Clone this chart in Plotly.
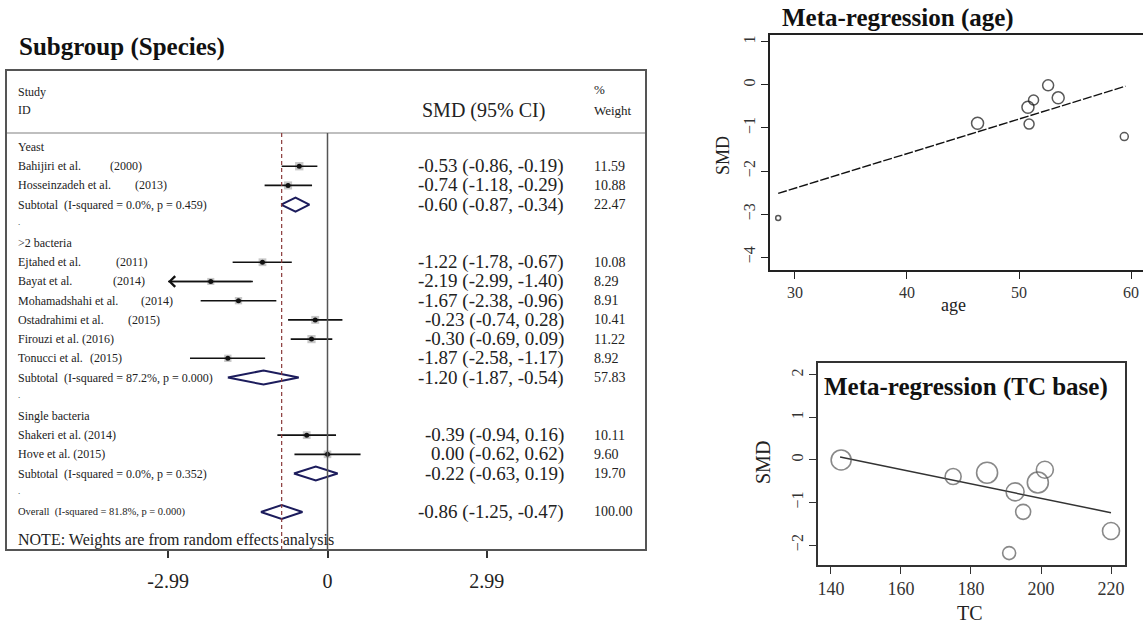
import plotly.graph_objects as go

W, H = 1143, 627
SERIF = "Liberation Serif, Times New Roman, serif"

# ---------------- forest plot data ----------------
groups = ["Yeast", ">2 bacteria", "Single bacteria"]
study_group = [0, 0, 1, 1, 1, 1, 1, 1, 2, 2]
study_name = ["Bahijiri et al.", "Hosseinzadeh et al.", "Ejtahed et al.", "Bayat et al.",
              "Mohamadshahi et al.", "Ostadrahimi et al.", "Firouzi et al.", "Tonucci et al.",
              "Shakeri et al.", "Hove et al."]
study_year = ["(2000)", "(2013)", "(2011)", "(2014)", "(2014)", "(2015)", "(2016)", "(2015)",
              "(2014)", "(2015)"]
study_smd = [-0.53, -0.74, -1.22, -2.19, -1.67, -0.23, -0.30, -1.87, -0.39, 0.00]
study_lo = [-0.86, -1.18, -1.78, -2.99, -2.38, -0.74, -0.69, -2.58, -0.94, -0.62]
study_hi = [-0.19, -0.29, -0.67, -1.40, -0.96, 0.28, 0.09, -1.17, 0.16, 0.62]
study_weight = [11.59, 10.88, 10.08, 8.29, 8.91, 10.41, 11.22, 8.92, 10.11, 9.60]

subtotal_i2 = ["0.0%", "87.2%", "0.0%"]
subtotal_p = ["0.459", "0.000", "0.352"]
subtotal_smd = [-0.60, -1.20, -0.22]
subtotal_lo = [-0.87, -1.87, -0.63]
subtotal_hi = [-0.34, -0.54, 0.19]
subtotal_weight = [22.47, 57.83, 19.70]

overall_i2, overall_p = "81.8%", "0.000"
overall_smd, overall_lo, overall_hi = -0.86, -1.25, -0.47
overall_weight = 100.00

axis_limit = 2.99
forest_ticks = [-2.99, 0, 2.99]
forest_ticktext = ["-2.99", "0", "2.99"]

# ---------------- meta-regression data ----------------
age_x = [28.5, 46.3, 50.8, 51.3, 50.9, 52.6, 53.5, 59.4]
age_smd = [-3.09, -0.89, -0.52, -0.35, -0.91, -0.01, -0.30, -1.20]
age_size = [5, 12, 12, 10, 10, 11, 12, 8]
age_fit_x = [28.5, 59.5]
age_fit_y = [-2.52, -0.03]

tc_x = [142.9, 174.9, 184.6, 192.6, 194.9, 190.9, 199.1, 201.1, 220.0]
tc_smd = [0.00, -0.39, -0.30, -0.75, -1.22, -2.19, -0.53, -0.23, -1.67]
tc_size = [20, 16, 21, 18, 15, 13, 21, 17, 17]
tc_fit_x = [142.6, 220.0]
tc_fit_y = [0.07, -1.24]

# ---------------- layout helpers ----------------
def px(x):
    return x / W


def py(y):
    return 1 - y / H


# forest panel frame (pixels)
BOX_L, BOX_R, BOX_T, BOX_B = 7, 645, 71, 549
HEADER_Y = 133
ZERO_PX, UNIT_PX = 327.5, 53.3
ROW0_PX, ROW_STEP = 147, 19.21

# gap before the year for studies whose year sits in its own column (None = inline)
year_px = [108, 133, 114, 111, 139, 126, None, 88, None, None]

# build the row layout of the forest plot
rows = []  # (kind, index)
for g in range(len(groups)):
    rows.append(("group", g))
    for i, sg in enumerate(study_group):
        if sg == g:
            rows.append(("study", i))
    rows.append(("subtotal", g))
    rows.append(("gap", g))
rows.append(("overall", 0))

fig = go.Figure()
annotations = []
shapes = []


def txt(x, y, text, size, anchor="left", yref="y", bold=False, color="#222", **kw):
    annotations.append(dict(
        x=x, y=y, xref="paper", yref=yref, text=f"<b>{text}</b>" if bold else text,
        showarrow=False, xanchor=anchor, yanchor="middle",
        font=dict(family=SERIF, size=size, color=color), **kw))


ci_x, ci_y = [], []
box_x, box_y, box_s = [], [], []
diamond_half = 7 / ROW_STEP

for r, (kind, k) in enumerate(rows):
    if kind == "group":
        txt(px(16), r, groups[k], 12)
    elif kind == "gap":
        txt(px(16), r - 0.1, ".", 9)
    elif kind == "study":
        if year_px[k] is None:
            txt(px(16), r, f"{study_name[k]} {study_year[k]}", 12)
        else:
            txt(px(16), r, study_name[k], 12)
            txt(px(year_px[k]), r, study_year[k], 12)
        ci_x += [study_lo[k], study_hi[k], None]
        ci_y += [r, r, None]
        box_x.append(study_smd[k])
        box_y.append(r)
        box_s.append(2.45 * study_weight[k] ** 0.5)
        if study_lo[k] <= -axis_limit:
            annotations.append(dict(
                x=study_lo[k], y=r, ax=study_hi[k], ay=r, xref="x", yref="y",
                axref="x", ayref="y", text="", showarrow=True, arrowhead=4,
                arrowsize=1.3, arrowwidth=1.6, arrowcolor="#111"))
        txt(px(566), r, f"{study_smd[k]:.2f} ({study_lo[k]:.2f}, {study_hi[k]:.2f})", 19, "right")
        txt(px(592), r, f"{study_weight[k]:.2f}", 14)
    elif kind in ("subtotal", "overall"):
        if kind == "subtotal":
            est, lo, hi, w = subtotal_smd[k], subtotal_lo[k], subtotal_hi[k], subtotal_weight[k]
            label = f"Subtotal\u00a0\u00a0(I-squared = {subtotal_i2[k]}, p = {subtotal_p[k]})"
            txt(px(16), r, label, 12)
        else:
            est, lo, hi, w = overall_smd, overall_lo, overall_hi, overall_weight
            label = f"Overall\u00a0\u00a0(I-squared = {overall_i2}, p = {overall_p})"
            txt(px(16), r, label, 10.5)
        fig.add_trace(go.Scatter(
            x=[lo, est, hi, est, lo], y=[r, r - diamond_half, r, r + diamond_half, r],
            mode="lines", line=dict(color="#1c1c5c", width=2),
            xaxis="x", yaxis="y", hoverinfo="skip", showlegend=False))
        txt(px(566), r, f"{est:.2f} ({lo:.2f}, {hi:.2f})", 19, "right")
        txt(px(592), r, f"{w:.2f}", 14)

fig.add_trace(go.Scatter(
    x=box_x, y=box_y, mode="markers",
    marker=dict(symbol="square", size=box_s, color="rgba(150,150,150,0.75)", line=dict(width=0)),
    xaxis="x", yaxis="y", hoverinfo="skip", showlegend=False))
fig.add_trace(go.Scatter(
    x=ci_x, y=ci_y, mode="lines", line=dict(color="#111", width=1.6),
    xaxis="x", yaxis="y", hoverinfo="skip", showlegend=False))
fig.add_trace(go.Scatter(
    x=box_x, y=box_y, mode="markers", marker=dict(symbol="circle", size=5, color="#111"),
    xaxis="x", yaxis="y", hoverinfo="skip", showlegend=False))

# header text
txt(px(17), py(47), "Subgroup (Species)", 25, yref="paper", bold=True, color="#111")
txt(px(16), py(92), "Study", 12, yref="paper")
txt(px(16), py(110), "ID", 12, yref="paper")
txt(px(483), py(110), "SMD (95% CI)", 20, "center", yref="paper")
txt(px(592), py(90), "%", 13, yref="paper")
txt(px(592), py(110), "Weight", 13, yref="paper")
txt(px(16), py(540), "NOTE: Weights are from random effects analysis", 16, yref="paper")

# header separator, null line and overall-effect line
shapes.append(dict(type="line", xref="paper", yref="paper", x0=px(BOX_L), x1=px(BOX_R),
                   y0=py(HEADER_Y), y1=py(HEADER_Y), line=dict(color="#aaa", width=1.5)))
shapes.append(dict(type="line", xref="x", yref="paper", x0=0, x1=0,
                   y0=py(HEADER_Y), y1=py(BOX_B), line=dict(color="#555", width=1.5)))
shapes.append(dict(type="line", xref="x", yref="paper", x0=overall_smd, x1=overall_smd,
                   y0=py(HEADER_Y), y1=py(BOX_B),
                   line=dict(color="#8a3a3a", width=1.2, dash="4px,3px")))

# ---------------- meta-regression (age) ----------------
fig.add_trace(go.Scatter(
    x=age_fit_x, y=age_fit_y, mode="lines", line=dict(color="#111", width=1.4, dash="9px,2px"),
    xaxis="x2", yaxis="y2", hoverinfo="skip", showlegend=False))
fig.add_trace(go.Scatter(
    x=age_x, y=age_smd, mode="markers",
    marker=dict(symbol="circle-open", size=age_size, color="#111", line=dict(width=1.5)),
    xaxis="x2", yaxis="y2", hoverinfo="skip", showlegend=False))

txt(px(898), py(18), "Meta-regression (age)", 25, "center", yref="paper", bold=True, color="#111")
txt(px(723), py(155), "SMD", 18, "center", yref="paper", textangle=-90)
txt(px(953), py(305), "age", 18, "center", yref="paper")

# ---------------- meta-regression (TC base) ----------------
fig.add_trace(go.Scatter(
    x=tc_fit_x, y=tc_fit_y, mode="lines", line=dict(color="#333", width=1.5),
    xaxis="x3", yaxis="y3", hoverinfo="skip", showlegend=False))
fig.add_trace(go.Scatter(
    x=tc_x, y=tc_smd, mode="markers",
    marker=dict(symbol="circle-open", size=tc_size, color="#555", line=dict(width=1.6)),
    xaxis="x3", yaxis="y3", hoverinfo="skip", showlegend=False))

txt(px(966), py(387), "Meta-regression (TC base)", 25, "center", yref="paper", bold=True, color="#111")
txt(px(763), py(463), "SMD", 20, "center", yref="paper", textangle=-90)
txt(px(970), py(613), "TC", 20, "center", yref="paper")

tick_font = dict(family=SERIF, size=16, color="#333")

fig.update_layout(
    width=W, height=H, margin=dict(l=0, r=0, t=0, b=0),
    paper_bgcolor="white", plot_bgcolor="white", showlegend=False,
    annotations=annotations, shapes=shapes,
    xaxis=dict(
        domain=[px(BOX_L), px(BOX_R)],
        range=[(BOX_L - ZERO_PX) / UNIT_PX, (BOX_R - ZERO_PX) / UNIT_PX],
        tickvals=forest_ticks, ticktext=forest_ticktext, ticks="outside", ticklen=7,
        tickwidth=1.5, tickcolor="#333", ticklabelstandoff=6,
        tickfont=dict(family=SERIF, size=20, color="#222"),
        showgrid=False, zeroline=False, showline=True, mirror=True,
        linecolor="#555", linewidth=2),
    yaxis=dict(
        domain=[py(BOX_B), py(BOX_T)],
        range=[(BOX_B - ROW0_PX) / ROW_STEP, (BOX_T - ROW0_PX) / ROW_STEP],
        showticklabels=False, ticks="", showgrid=False, zeroline=False,
        showline=True, mirror=True, linecolor="#555", linewidth=2),
    xaxis2=dict(
        domain=[px(770), 1.0], range=[27.77, 61.07], anchor="y2",
        tickvals=[30, 40, 50, 60], ticks="outside", ticklen=7, tickcolor="#222",
        tickfont=tick_font, showgrid=False, zeroline=False,
        showline=True, mirror=True, linecolor="#222", linewidth=1.5),
    yaxis2=dict(
        domain=[py(270), py(35)], range=[-4.30, 1.16], anchor="x2",
        tickvals=[-4, -3, -2, -1, 0, 1], ticks="outside", ticklen=7, tickcolor="#222",
        tickangle=-90, tickfont=tick_font, showgrid=False, zeroline=False,
        showline=True, mirror=False, linecolor="#222", linewidth=1.5),
    xaxis3=dict(
        domain=[px(818), px(1125)], range=[136.29, 224.0], anchor="y3",
        tickvals=[140, 160, 180, 200, 220], ticks="outside", ticklen=7, tickcolor="#333",
        tickfont=dict(family=SERIF, size=18, color="#333"), showgrid=False, zeroline=False,
        showline=True, mirror=True, linecolor="#333", linewidth=1.5),
    yaxis3=dict(
        domain=[py(565), py(363)], range=[-2.47, 2.28], anchor="x3",
        tickvals=[-2, -1, 0, 1, 2], ticks="outside", ticklen=7, tickcolor="#333",
        tickangle=-90, tickfont=dict(family=SERIF, size=16, color="#333"),
        showgrid=False, zeroline=False,
        showline=True, mirror=True, linecolor="#333", linewidth=1.5),
)

fig.write_html("out.html")
